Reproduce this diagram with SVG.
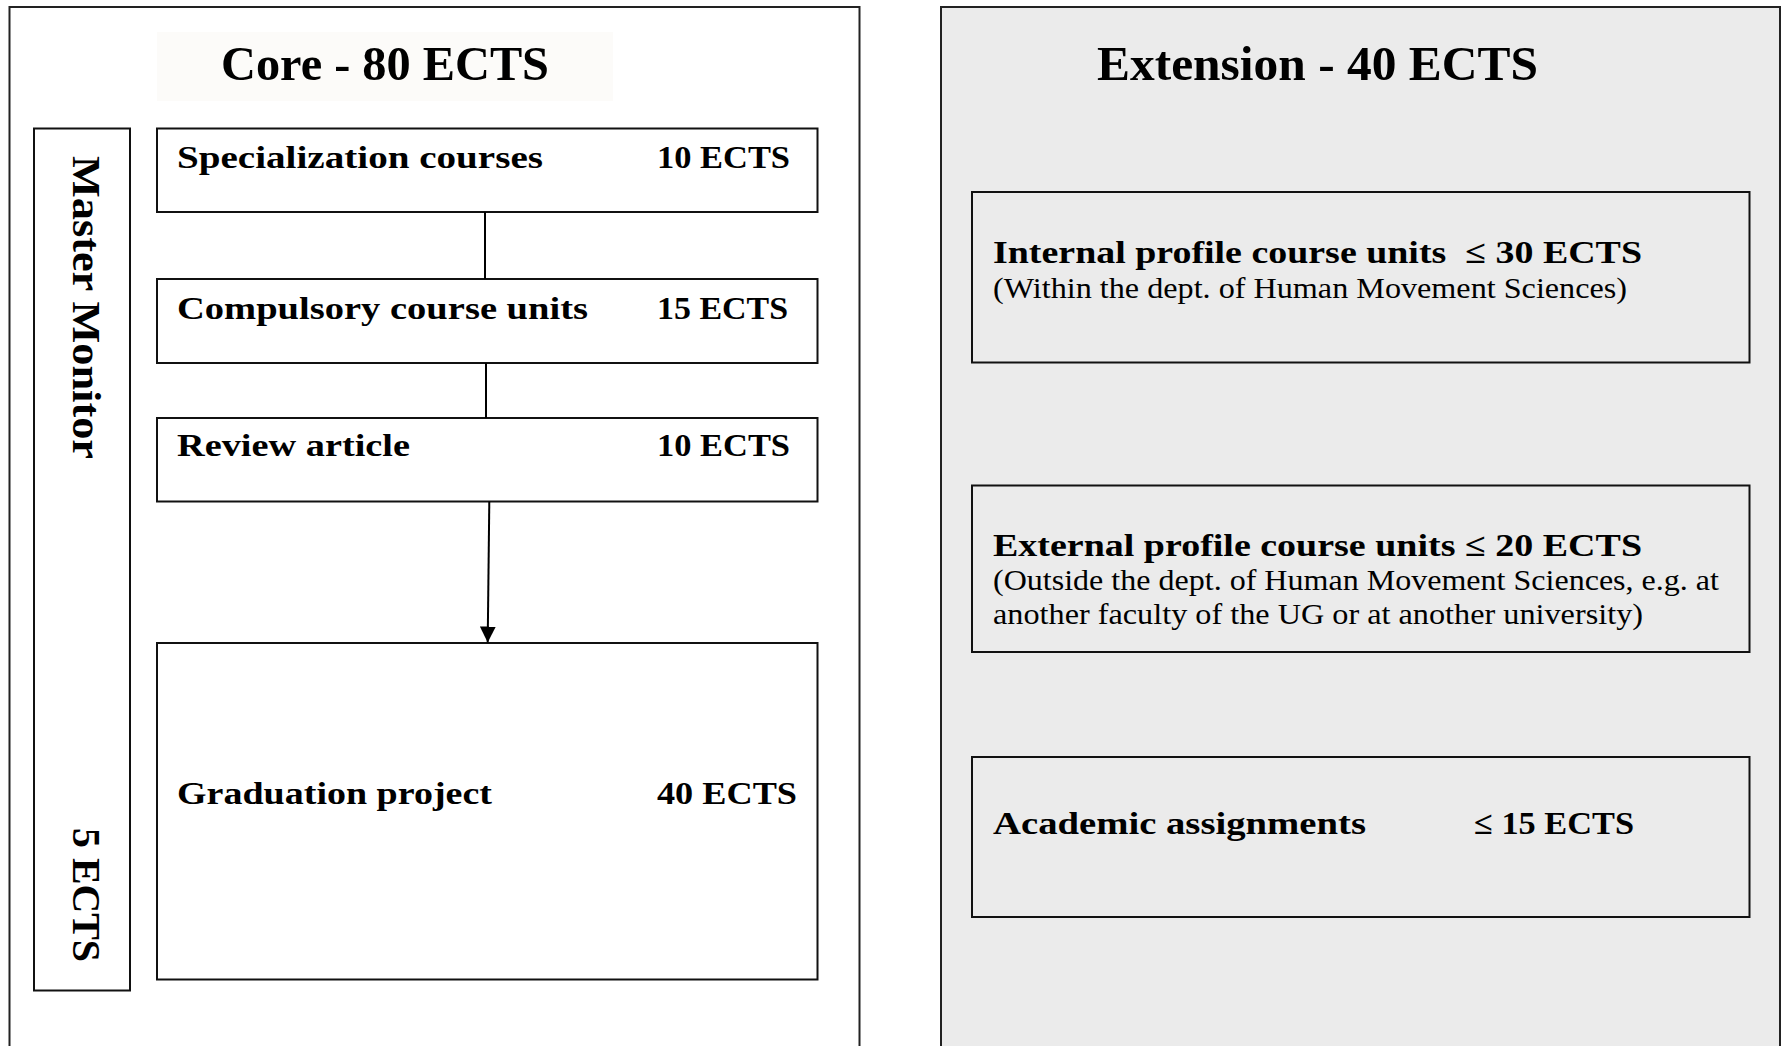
<svg xmlns="http://www.w3.org/2000/svg" width="1785" height="1046" viewBox="0 0 1785 1046">
  <style>
    .panel { stroke: #222; stroke-width: 2; }
    .box { fill: none; stroke: #111; stroke-width: 2; }
    .t { font-family: "Liberation Serif", "Times New Roman", serif; fill: #000; }
    .title { font-size: 49px; font-weight: bold; }
    .lbl { font-size: 32px; font-weight: bold; }
    .sub { font-size: 29px; }
    .rot { font-size: 41px; font-weight: bold; }
    .conn { stroke: #000; stroke-width: 2; fill: none; }
  </style>
  <defs>
    <marker id="arrow" markerWidth="16" markerHeight="16" refX="16" refY="8" orient="auto" markerUnits="userSpaceOnUse">
      <path d="M0,0 L16,8 L0,16 Z" fill="#000"/>
    </marker>
  </defs>
  <rect width="1785" height="1046" fill="#fff"/>

  <g id="core-panel">
    <rect class="panel" x="9.5" y="7" width="850" height="1060" fill="#fff"/>
    <rect x="157" y="32" width="456" height="69" fill="#fcfbf9"/>
    <text class="t title" x="221" y="80" textLength="328" lengthAdjust="spacingAndGlyphs">Core - 80 ECTS</text>
  </g>

  <g id="extension-panel">
    <rect class="panel" x="941" y="7" width="839" height="1060" fill="#ebebeb"/>
    <text class="t title" x="1097" y="80" textLength="441" lengthAdjust="spacingAndGlyphs">Extension - 40 ECTS</text>
  </g>

  <g id="master-monitor">
    <rect class="box" x="34" y="128.5" width="96" height="862"/>
    <text class="t rot" transform="translate(73,156) rotate(90)" x="0" y="0" textLength="303" lengthAdjust="spacingAndGlyphs">Master Monitor</text>
    <text class="t rot" transform="translate(73,828) rotate(90)" x="0" y="0" textLength="134" lengthAdjust="spacingAndGlyphs">5 ECTS</text>
  </g>

  <g id="specialization">
    <rect class="box" x="157" y="128.5" width="660.5" height="83.5"/>
    <text class="t lbl" x="177" y="167.5" textLength="366" lengthAdjust="spacingAndGlyphs">Specialization courses</text>
    <text class="t lbl" x="657" y="167.5" textLength="133" lengthAdjust="spacingAndGlyphs">10 ECTS</text>
  </g>

  <g id="compulsory">
    <rect class="box" x="157" y="279" width="660.5" height="84"/>
    <text class="t lbl" x="177" y="318.5" textLength="411" lengthAdjust="spacingAndGlyphs">Compulsory course units</text>
    <text class="t lbl" x="657" y="318.5" textLength="131" lengthAdjust="spacingAndGlyphs">15 ECTS</text>
  </g>

  <g id="review">
    <rect class="box" x="157" y="418" width="660.5" height="83.5"/>
    <text class="t lbl" x="177" y="456" textLength="233" lengthAdjust="spacingAndGlyphs">Review article</text>
    <text class="t lbl" x="657" y="456" textLength="133" lengthAdjust="spacingAndGlyphs">10 ECTS</text>
  </g>

  <g id="graduation">
    <rect class="box" x="157" y="643" width="660.5" height="336.5"/>
    <text class="t lbl" x="177" y="803.5" textLength="315" lengthAdjust="spacingAndGlyphs">Graduation project</text>
    <text class="t lbl" x="657" y="803.5" textLength="140" lengthAdjust="spacingAndGlyphs">40 ECTS</text>
  </g>

  <g id="internal">
    <rect class="box" x="972" y="192" width="777.5" height="170.5"/>
    <text class="t lbl" x="993" y="263" textLength="649" lengthAdjust="spacingAndGlyphs">Internal profile course units&#160; ≤ 30 ECTS</text>
    <text class="t sub" x="993" y="298" textLength="634" lengthAdjust="spacingAndGlyphs">(Within the dept. of Human Movement Sciences)</text>
  </g>

  <g id="external">
    <rect class="box" x="972" y="485.5" width="777.5" height="166.5"/>
    <text class="t lbl" x="993" y="556" textLength="649" lengthAdjust="spacingAndGlyphs">External profile course units ≤ 20 ECTS</text>
    <text class="t sub" x="993" y="590" textLength="726" lengthAdjust="spacingAndGlyphs">(Outside the dept. of Human Movement Sciences, e.g. at</text>
    <text class="t sub" x="993" y="623.5" textLength="650" lengthAdjust="spacingAndGlyphs">another faculty of the UG or at another university)</text>
  </g>

  <g id="academic">
    <rect class="box" x="972" y="757" width="777.5" height="160"/>
    <text class="t lbl" x="993" y="833.5" textLength="373" lengthAdjust="spacingAndGlyphs">Academic assignments</text>
    <text class="t lbl" x="1474" y="833.5" textLength="160" lengthAdjust="spacingAndGlyphs">≤ 15 ECTS</text>
  </g>

  <g id="connectors">
    <line class="conn" x1="485" y1="212" x2="485" y2="279" stroke-width="1.5"/>
    <line class="conn" x1="486" y1="363" x2="486" y2="418" stroke-width="1.5"/>
    <line class="conn" x1="489.3" y1="501.5" x2="487.7" y2="642.5" marker-end="url(#arrow)"/>
  </g>
</svg>
